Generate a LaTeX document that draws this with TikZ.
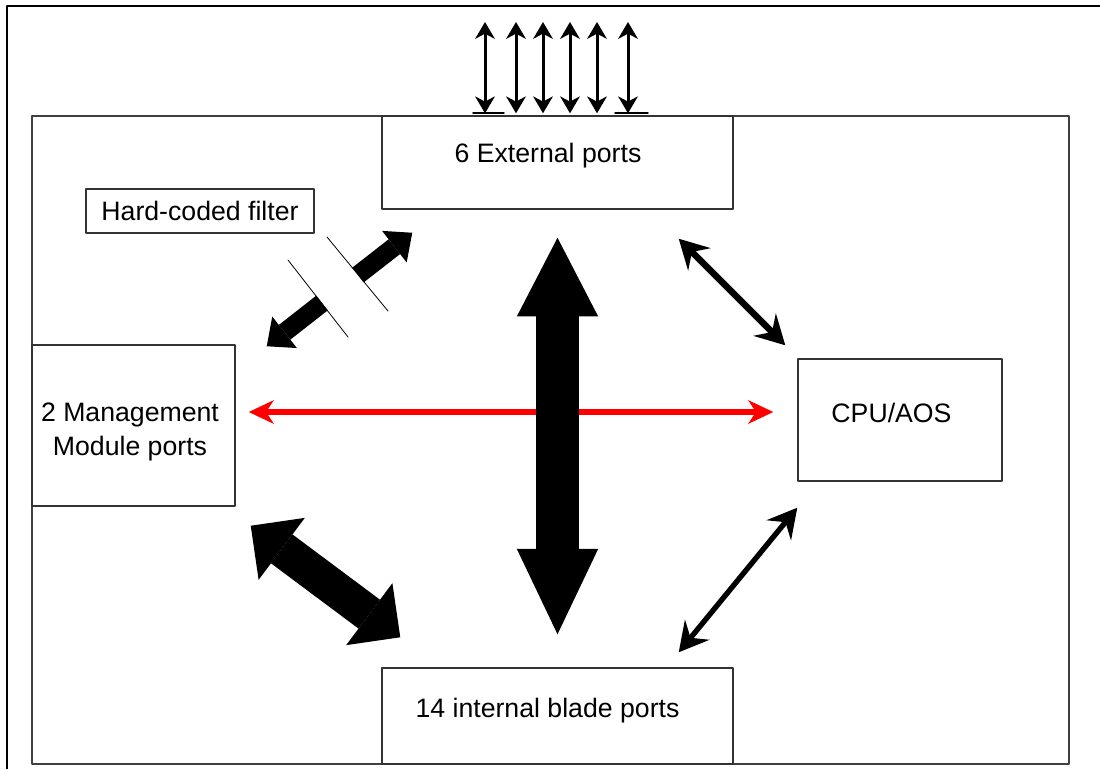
\documentclass[tikz,border=0pt]{standalone}
\usepackage{fontspec}
\setmainfont{Liberation Sans}
\usetikzlibrary{arrows.meta}
\definecolor{boxgray}{HTML}{333333}
\definecolor{framegray}{HTML}{404040}
\tikzset{
    box/.style={draw=boxgray,line width=1.1pt,inner sep=0pt},%boxes of the switch parts
    lbl/.style={font=\fontsize{20}{26}\selectfont},
    thinhead/.tip={Stealth[length=22pt,width=24pt,inset=8pt,line width=0pt]},
    porthead/.tip={Stealth[length=12.75pt,width=15pt,inset=4pt,line width=0pt]},
    portarrow/.style={line width=2.25pt,{porthead}-{porthead}},
    slimarrow/.style={line width=#1,{thinhead}-{thinhead}},
    fatarrow/.style={line cap=butt,line width=#1}
    }
\begin{document}
\begin{tikzpicture}[line cap=round,line join=round,x=0.75pt,y=-0.75pt]
\useasboundingbox (0,0) rectangle (1100,769);
\draw[line width=1.3pt,line cap=butt] (7,769) -- (7,6) -- (1100,6);
\draw[draw=framegray,line width=1.8pt] (32,116) rectangle (1069,764);
\node[box,minimum width=263.25pt,minimum height=69.75pt] (ext) at (557.5,162.5) {};
\node[lbl] at ([shift={(-9.5,-7)}]ext.center) {6 External ports};
\node[box,lbl,minimum width=171pt,minimum height=33pt] (filter) at (200,211) {Hard-coded filter};
\node[box,minimum width=152.25pt,minimum height=120.75pt] (mgmt) at (133.5,425.5) {};
\node[lbl,align=center] at ([shift={(-3.5,6.5)}]mgmt.center) {2 Management\\Module ports};
\node[box,minimum width=153pt,minimum height=91.5pt] (cpu) at (900,420) {};
\node[lbl] at ([shift={(-8.5,-7.5)}]cpu.center) {CPU/AOS};
\node[box,minimum width=263.25pt,minimum height=72pt] (int) at (557.5,716) {};
\node[lbl] at ([shift={(-10,-5)}]int.center) {14 internal blade ports};
\draw[line width=1.1pt] (473,113) -- (504,113) (615,113) -- (648,113);
\foreach \x in {485,516,543,570,597,628}{
\coordinate (top\x) at (\x,22);
\draw[portarrow,shorten >=1.5pt] (top\x) -- (top\x |- ext.north);
}
\draw[red,line width=4.5pt,{Stealth[length=19pt,width=18pt,inset=6pt,line width=0pt]}-{Stealth[length=19pt,width=18pt,inset=6pt,line width=0pt]}] ([shift={(13,-13.5)}]mgmt.east) -- ([shift={(-24,-8)}]cpu.west);
\draw[fatarrow=32.25pt,{Triangle[length=59pt,width=61pt,line width=0pt]}-{Triangle[length=64pt,width=61pt,line width=0pt]},shorten <=21pt,shorten >=24.75pt] (ext.south) -- (int.north);
\draw[slimarrow=4.8pt] ([shift={(-55,29)}]ext.south east) -- ([shift={(-12,-13)}]cpu.north west);
\draw[slimarrow=4pt] ([shift={(0,26)}]cpu.south west) -- ([shift={(-55,-15)}]int.north east);
\draw[fatarrow=27pt,{Triangle[length=29pt,width=58pt,line width=0pt]}-{Triangle[length=29pt,width=58pt,line width=0pt]}] ([shift={(15,19)}]mgmt.south east) -- ([shift={(19,-30)}]int.north west);
\coordinate (cutlow) at (322,303);
\coordinate (cuthigh) at (358,275);
\draw[fatarrow=14pt,-{Triangle[length=17pt,width=30pt,line width=0pt]}] (cuthigh) -- ([shift={(31,23)}]ext.south west);
\draw[fatarrow=14pt,-{Triangle[length=17pt,width=30pt,line width=0pt]}] (cutlow) -- ([shift={(31,2)}]mgmt.north east);
\draw[line width=0.6pt] (288,260) -- (348,337) (327,237) -- (388,311);
\end{tikzpicture}
\end{document}
